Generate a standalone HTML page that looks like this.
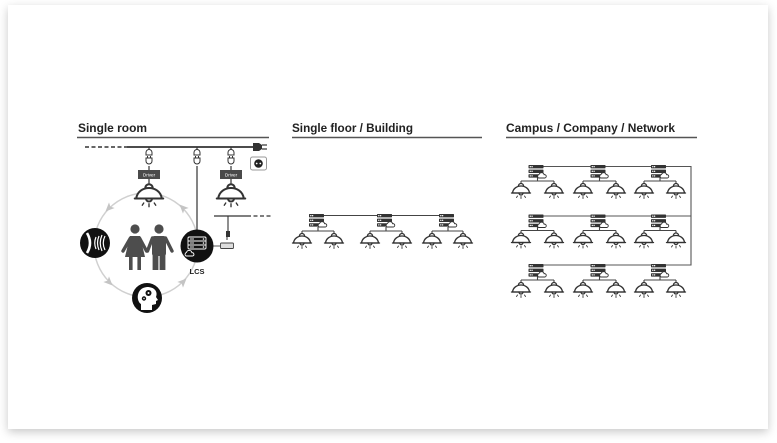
<!DOCTYPE html>
<html><head><meta charset="utf-8"><style>
html,body{margin:0;padding:0;background:#fff;width:777px;height:443px;overflow:hidden}
.card{position:absolute;left:8px;top:5px;width:760px;height:424px;background:#fff;box-shadow:0 3px 9px rgba(0,0,0,0.22)}
svg{position:absolute;left:0;top:0}
</style></head><body>
<div class="card"></div>
<svg width="777" height="443" viewBox="0 0 777 443" xmlns="http://www.w3.org/2000/svg">
<defs>
<g id="srv">
<rect x="0" y="0" width="15" height="3.4" rx="0.6" fill="#333"/>
<rect x="0" y="4.6" width="15" height="3.4" rx="0.6" fill="#333"/>
<rect x="0" y="9.2" width="11" height="3.4" rx="0.6" fill="#333"/>
<circle cx="1.8" cy="1.7" r="0.7" fill="#fff"/><circle cx="3.6" cy="1.7" r="0.7" fill="#fff"/>
<circle cx="1.8" cy="6.3" r="0.7" fill="#fff"/><circle cx="3.6" cy="6.3" r="0.7" fill="#fff"/>
<circle cx="1.8" cy="10.9" r="0.7" fill="#fff"/><circle cx="3.6" cy="10.9" r="0.7" fill="#fff"/>
<path d="M10 13 a2 2 0 0 1 0.6 -3.6 a2.6 2.6 0 0 1 5 0.3 a1.7 1.7 0 0 1 0.9 3.3 Z" fill="#fff" stroke="#333" stroke-width="0.9"/>
</g>
<g id="lmp" fill="none" stroke="#333" stroke-width="1.35" stroke-linecap="round">
<path d="M-2.5 3 A2.5 2.5 0 0 1 2.5 3"/>
<path d="M-8.5 10 C-8 5.5 -4 3 0 3 C4 3 8 5.5 8.5 10 Z" fill="#fff"/>
<line x1="-9.5" y1="10" x2="9.5" y2="10"/>
<path d="M-2 10 A2 2 0 0 0 2 10"/>
<line x1="0" y1="13.5" x2="0" y2="15.5" stroke-width="0.9"/>
<line x1="-3.5" y1="13" x2="-4.5" y2="14.5" stroke-width="0.9"/>
<line x1="3.5" y1="13" x2="4.5" y2="14.5" stroke-width="0.9"/>
</g>
<g id="plug" fill="#fff" stroke="#333" stroke-width="1">
<path d="M-3 10 L-3 7.5 A3 3 0 0 1 3 7.5 L3 10 Z"/>
<line x1="-1.5" y1="11" x2="-1.5" y2="13"/>
<line x1="1.5" y1="11" x2="1.5" y2="13"/>
<path d="M-3 13 L3 13 L3 16 A3 3 0 0 1 -3 16 Z"/>
</g>
</defs>

<!-- Titles -->
<g font-family="Liberation Sans, sans-serif" font-weight="bold" font-size="12" fill="#222">
<text x="78" y="132" textLength="69" lengthAdjust="spacingAndGlyphs">Single room</text>
<text x="292" y="132" textLength="121" lengthAdjust="spacingAndGlyphs">Single floor / Building</text>
<text x="506" y="132" textLength="169" lengthAdjust="spacingAndGlyphs">Campus / Company / Network</text>
</g>
<g stroke="#555" stroke-width="1.5">
<line x1="77" y1="137.5" x2="269" y2="137.5"/>
<line x1="292" y1="137.5" x2="482" y2="137.5"/>
<line x1="506" y1="137.5" x2="697" y2="137.5"/>
</g>

<!-- ========== Section 1 ========== -->
<circle cx="146" cy="245" r="52" fill="none" stroke="#d0d0d0" stroke-width="1.5"/>
<g fill="#c4c4c4">
<path d="M0 -5 L4 4 L0 2 L-4 4 Z" transform="translate(109,208) rotate(225)"/>
<path d="M0 -5 L4 4 L0 2 L-4 4 Z" transform="translate(109,282) rotate(135)"/>
<path d="M0 -5 L4 4 L0 2 L-4 4 Z" transform="translate(183,282) rotate(45)"/>
<path d="M0 -5 L4 4 L0 2 L-4 4 Z" transform="translate(183,208) rotate(-45)"/>
</g>

<!-- bus -->
<line x1="85" y1="147" x2="127" y2="147" stroke="#333" stroke-width="1.6" stroke-dasharray="4 2.5"/>
<line x1="127" y1="147" x2="256" y2="147" stroke="#333" stroke-width="1.8"/>
<path d="M253 143 L259 143 L262 145 L262 149 L259 151 L253 151 Z" fill="#333"/>
<line x1="262" y1="145" x2="267" y2="145" stroke="#333" stroke-width="1.2"/>
<line x1="262" y1="149" x2="267" y2="149" stroke="#333" stroke-width="1.2"/>
<rect x="250.5" y="157" width="16" height="13" rx="2" fill="#fff" stroke="#999" stroke-width="1"/>
<circle cx="258.5" cy="163.5" r="4.3" fill="#222"/>
<circle cx="256.7" cy="163.5" r="0.9" fill="#fff"/><circle cx="260.3" cy="163.5" r="0.9" fill="#fff"/>

<!-- columns -->
<g stroke="#333" stroke-width="1.2">
<line x1="149" y1="147" x2="149" y2="151"/>
<line x1="149" y1="166" x2="149" y2="170"/>
<line x1="149" y1="179" x2="149" y2="185"/>
<line x1="197" y1="147" x2="197" y2="151"/>
<line x1="197" y1="166" x2="197" y2="230"/>
<line x1="231" y1="147" x2="231" y2="151"/>
<line x1="231" y1="166" x2="231" y2="170"/>
<line x1="231" y1="179" x2="231" y2="185"/>
</g>
<use href="#plug" x="149" y="145"/>
<use href="#plug" x="197" y="145"/>
<use href="#plug" x="231" y="145"/>
<rect x="138" y="170" width="22" height="9" fill="#4a4a4a"/>
<rect x="220" y="170" width="22" height="9" fill="#4a4a4a"/>
<g font-family="Liberation Sans, sans-serif" font-size="4.6" fill="#fff" text-anchor="middle">
<text x="149" y="176.3">Driver</text>
<text x="231" y="176.3">Driver</text>
</g>
<use href="#lmp" transform="translate(149,183.5) scale(1.5)"/>
<use href="#lmp" transform="translate(231,183.5) scale(1.5)"/>

<!-- right branch -->
<line x1="214" y1="216" x2="247" y2="216" stroke="#333" stroke-width="1.3"/>
<line x1="247" y1="216" x2="272" y2="216" stroke="#333" stroke-width="1.3" stroke-dasharray="4 2.5"/>
<line x1="228" y1="216" x2="228" y2="232" stroke="#333" stroke-width="1.1"/>
<rect x="226" y="231" width="4" height="6" fill="#333"/>
<line x1="227" y1="237" x2="227" y2="240" stroke="#333" stroke-width="1"/>
<line x1="212" y1="246" x2="221" y2="246" stroke="#555" stroke-width="1"/>
<rect x="220.5" y="243" width="13" height="5.5" rx="1" fill="#ddd" stroke="#444" stroke-width="0.9"/>

<!-- people -->
<g fill="#4d4d4d" stroke="none">
<circle cx="135" cy="229" r="4.6"/>
<path d="M130 236 L140 236 L145 257 L125 257 Z"/>
<rect x="129" y="256" width="3.6" height="14"/>
<rect x="137.4" y="256" width="3.6" height="14"/>
<circle cx="159" cy="229" r="4.6"/>
<rect x="152" y="236" width="14" height="20" rx="2.5"/>
<rect x="152.6" y="254" width="5.8" height="16"/>
<rect x="159.6" y="254" width="5.8" height="16"/>
</g>
<g stroke="#4d4d4d" stroke-width="3.4" stroke-linecap="round" fill="none">
<line x1="130.5" y1="238" x2="123" y2="251"/>
<line x1="139.5" y1="238" x2="146.5" y2="251"/>
<line x1="152.5" y1="238" x2="147.5" y2="251"/>
<line x1="165.5" y1="238" x2="172" y2="251"/>
</g>

<!-- sensor circle -->
<circle cx="95" cy="243" r="15" fill="#111"/>
<path d="M87 233 Q93 243 87 253" stroke="#fff" stroke-width="2.6" fill="none"/>
<g stroke="#fff" stroke-width="1.2" fill="none">
<path d="M96 237 Q93.5 243 96 249"/>
<path d="M99 236 Q96 243 99 250"/>
<path d="M102 235 Q98.5 243 102 251"/>
<path d="M105 236 Q101.5 243 105 250"/>
</g>

<!-- LCS circle -->
<circle cx="197" cy="246" r="16.5" fill="#111"/>
<g stroke="#fff" stroke-width="0.9" fill="none">
<rect x="188" y="237" width="18" height="12" rx="1.2"/>
<line x1="188" y1="241" x2="206" y2="241"/>
<line x1="188" y1="245" x2="206" y2="245"/>
<line x1="190" y1="239" x2="194" y2="239"/>
<line x1="190" y1="243" x2="194" y2="243"/>
<line x1="190" y1="247" x2="194" y2="247"/>
<path d="M186 256 a2 2 0 0 1 0.5 -3.6 a2.8 2.8 0 0 1 5.4 0.3 a1.7 1.7 0 0 1 0.8 3.3 Z" fill="#111"/>
</g>
<g fill="#fff"><circle cx="203.5" cy="239" r="0.8"/><circle cx="203.5" cy="243" r="0.8"/><circle cx="203.5" cy="247" r="0.8"/></g>
<text x="197" y="274" font-family="Liberation Sans, sans-serif" font-weight="bold" font-size="7.5" fill="#222" text-anchor="middle">LCS</text>

<!-- head circle -->
<circle cx="147" cy="298" r="15" fill="#111"/>
<path d="M141 310 L141 304 C136 301 136 288 147 287 C155 287 158 292 156 297 L158 300 L156 301 L156 304 L152 305 L152 310 Z" fill="#fff"/>
<circle cx="148.5" cy="293" r="3" fill="#111"/>
<circle cx="148.5" cy="293" r="1" fill="#fff"/>
<circle cx="144" cy="298.5" r="2.2" fill="#111"/>
<circle cx="144" cy="298.5" r="0.7" fill="#fff"/>

<!-- ========== Section 2 ========== -->
<g stroke="#444" stroke-width="1.1" fill="none">
<line x1="318" y1="215.5" x2="448" y2="215.5"/>
<path d="M318 227 L318 231 M302 231 L334 231 M302 231 L302 234 M334 231 L334 234"/>
<path d="M386 227 L386 231 M370 231 L402 231 M370 231 L370 234 M402 231 L402 234"/>
<path d="M448 227 L448 231 M432 231 L463 231 M432 231 L432 234 M463 231 L463 234"/>
</g>
<use href="#srv" x="309" y="214"/>
<use href="#srv" x="377" y="214"/>
<use href="#srv" x="439" y="214"/>
<use href="#lmp" x="302" y="233"/><use href="#lmp" x="334" y="233"/>
<use href="#lmp" x="370" y="233"/><use href="#lmp" x="402" y="233"/>
<use href="#lmp" x="432" y="233"/><use href="#lmp" x="463" y="233"/>

<!-- ========== Section 3 ========== -->
<g stroke="#555" stroke-width="1.1" fill="none">
<line x1="537" y1="166.5" x2="691" y2="166.5"/>
<line x1="537" y1="216" x2="691" y2="216"/>
<line x1="537" y1="265" x2="691" y2="265"/>
<line x1="691" y1="166" x2="691" y2="265.5"/>
</g>
<g id="row1">
<g stroke="#444" stroke-width="1.1" fill="none">
<path d="M537.5 177 L537.5 181 M521 181 L554 181 M521 181 L521 184 M554 181 L554 184"/>
<path d="M599.5 177 L599.5 181 M583 181 L616 181 M583 181 L583 184 M616 181 L616 184"/>
<path d="M660 177 L660 181 M644 181 L676 181 M644 181 L644 184 M676 181 L676 184"/>
</g>
<use href="#srv" x="528.5" y="165"/>
<use href="#srv" x="590.5" y="165"/>
<use href="#srv" x="651" y="165"/>
<use href="#lmp" x="521" y="183"/><use href="#lmp" x="554" y="183"/>
<use href="#lmp" x="583" y="183"/><use href="#lmp" x="616" y="183"/>
<use href="#lmp" x="644" y="183"/><use href="#lmp" x="676" y="183"/>
</g>
<use href="#row1" y="49.5"/>
<use href="#row1" y="99"/>
</svg>
</body></html>
